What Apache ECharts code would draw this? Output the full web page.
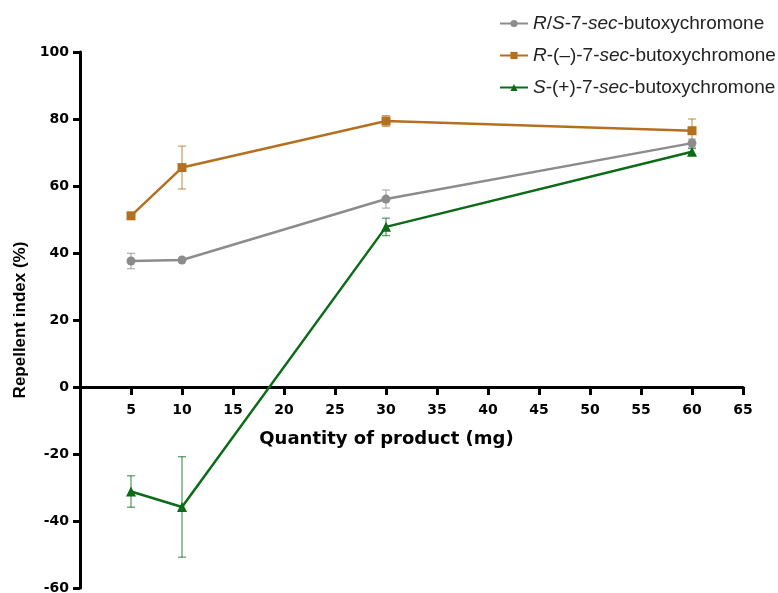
<!DOCTYPE html>
<html>
<head>
<meta charset="utf-8">
<script src="https://cdn.jsdelivr.net/npm/echarts@6/dist/echarts.min.js"></script>
<style>
  html, body { margin: 0; padding: 0; background: #fff; }
  #chart { width: 778px; height: 593px; }
</style>
</head>
<body>
<div id="chart"></div>
<script>
// quantities (mg)
const doses = [5, 10, 30, 60]
const xTicks = [5, 10, 15, 20, 25, 30, 35, 40, 45, 50, 55, 60, 65]

// repellent index (%) and SD
const racemic = [37.6, 37.9, 56.1, 72.8]
const racemicSd = [2.3, 0, 2.7, 1.2]
const rForm = [51.1, 65.5, 79.4, 76.5]
const rFormSd = [0, 6.4, 1.6, 3.5]
const sForm = [-31.2, -35.8, 47.8, 70.2]
const sFormSd = [4.7, 15.0, 2.6, 1.0]

const names = ['rs', 'r', 's']
const labels = {
  rs: '{i|R}/{i|S}-7-{i|sec}-butoxychromone',
  r: '{i|R}-(\u2013)-7-{i|sec}-butoxychromone',
  s: '{i|S}-(+)-7-{i|sec}-butoxychromone'
}
const colors = ['#8c8c8c', '#b5701f', '#0b6b17']

const chart = echarts.init(document.getElementById('chart'))

function pairs(ys) {
  return doses.map((x, i) => [x, ys[i]])
}

function errorSeries(ys, sd, color) {
  return {
    type: 'custom',
    silent: true,
    z: 1,
    data: doses.map((x, i) => [x, ys[i], sd[i]]),
    renderItem(params, api) {
      const x = api.value(0)
      const y = api.value(1)
      const e = api.value(2)
      if (!e) return null
      const top = api.coord([x, y + e])
      const bot = api.coord([x, y - e])
      const w = 4
      const st = { stroke: color, lineWidth: 1.3, opacity: 0.65 }
      return {
        type: 'group',
        children: [
          { type: 'line', shape: { x1: top[0], y1: top[1], x2: bot[0], y2: bot[1] }, style: st },
          { type: 'line', shape: { x1: top[0] - w, y1: top[1], x2: top[0] + w, y2: top[1] }, style: st },
          { type: 'line', shape: { x1: bot[0] - w, y1: bot[1], x2: bot[0] + w, y2: bot[1] }, style: st }
        ]
      }
    }
  }
}

function lineSeries(name, ys, color, symbol) {
  return {
    name: name,
    type: 'line',
    data: pairs(ys),
    symbol: symbol,
    symbolSize: symbol === 'triangle' ? 10 : 9,
    z: 3,
    itemStyle: { color: color },
    lineStyle: { color: color, width: 2.5 }
  }
}

const tickFont = { fontFamily: 'DejaVu Sans', fontSize: 14, fontWeight: 'bold', color: '#000' }

chart.setOption({
  animation: false,
  textStyle: { fontFamily: 'Liberation Sans, Arial, sans-serif' },
  grid: { left: 80, right: 35, top: 52, bottom: 5, outerBoundsMode: 'none' },
  legend: {
    orient: 'vertical',
    left: 494,
    top: 9,
    itemGap: 13,
    itemWidth: 28,
    itemHeight: 9,
    data: names,
    formatter: n => labels[n],
    textStyle: {
      fontSize: 19,
      color: '#222',
      rich: { i: { fontSize: 19, fontStyle: 'italic', color: '#222' } }
    }
  },
  xAxis: {
    type: 'value',
    min: 0,
    max: 65,
    interval: 5,
    name: 'Quantity of product (mg)',
    nameLocation: 'middle',
    nameGap: 43,
    nameTextStyle: {
      fontFamily: 'DejaVu Sans', fontSize: 18, fontWeight: 'bold', color: '#000',
      padding: [0, 50, 0, 0]
    },
    splitLine: { show: false },
    axisLine: { onZero: false, lineStyle: { color: '#000', width: 3 } },
    axisTick: { length: 8, lineStyle: { color: '#000', width: 3 } },
    axisLabel: Object.assign({
      margin: 16,
      formatter: v => (xTicks.indexOf(v) >= 0 ? String(v) : '')
    }, tickFont)
  },
  yAxis: {
    type: 'value',
    min: -60,
    max: 100,
    interval: 20,
    name: 'Repellent index (%)',
    nameLocation: 'middle',
    nameGap: 50,
    nameTextStyle: { fontSize: 17, fontWeight: 'bold', color: '#000' },
    splitLine: { show: false },
    axisLine: { show: true, lineStyle: { color: '#000', width: 3 } },
    axisTick: { show: true, length: 7, lineStyle: { color: '#000', width: 3 } },
    axisLabel: Object.assign({ margin: 11 }, tickFont)
  },
  series: [
    errorSeries(racemic, racemicSd, colors[0]),
    errorSeries(rForm, rFormSd, colors[1]),
    errorSeries(sForm, sFormSd, colors[2]),
    lineSeries('rs', racemic, colors[0], 'circle'),
    lineSeries('r', rForm, colors[1], 'rect'),
    lineSeries('s', sForm, colors[2], 'triangle')
  ]
})

// lift the x axis (with its labels) up to y = 0, using the y scale
const yZero = chart.convertToPixel({ yAxisIndex: 0 }, 0)
const yBottom = chart.convertToPixel({ yAxisIndex: 0 }, -60)
chart.setOption({ xAxis: { offset: -(yBottom - yZero) } })
</script>
</body>
</html>
